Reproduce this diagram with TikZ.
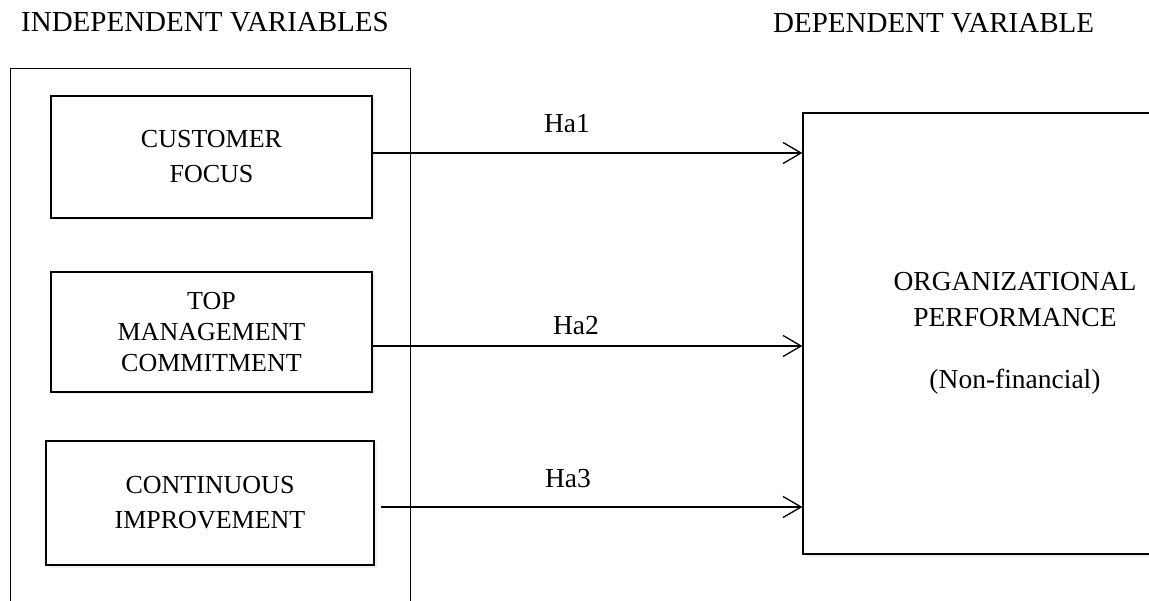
\documentclass[tikz,border=0pt]{standalone}
\usepackage{fontspec}
\setmainfont{Liberation Serif}
\usepackage{tikz}
\usetikzlibrary{shapes}
\usetikzlibrary{arrows.meta}
\usetikzlibrary{positioning}
\usetikzlibrary{shadows}

\begin{document}
\begin{tikzpicture}[x=1pt,y=-1pt]
			\tikzset{varbox/.style = {shape=rectangle,draw,line width=1.3pt,
					fill=white,align=center,inner sep=0pt,
					drop shadow={shadow xshift=2.5pt,shadow yshift=-2.5pt,
						fill=black!12},
					font=\fontsize{26}{35}\selectfont}}
			\tikzset{container/.style = {shape=rectangle,draw,line width=0.9pt,
					inner sep=0pt}}
			\tikzset{edge/.style = {-{Straight Barb[length=18pt,width=21pt]},
					line width=1.3pt}}
			\tikzset{hlabel/.style = {anchor=base,inner sep=0pt,
					font=\fontsize{27.5}{33}\selectfont}}
			\tikzset{heading/.style = {anchor=base west,inner sep=0pt,
					font=\fontsize{29}{35}\selectfont}}

			\useasboundingbox (0,0) rectangle (1149,601);
			\clip (0,0) rectangle (1149,601);

			% headings
			\node[heading] (hind) at (21,32) {INDEPENDENT VARIABLES};
			\node[heading] (hdep) at (773,33) {DEPENDENT VARIABLE};

			% vertices
			\node[container,minimum width=400pt,minimum height=572pt] (indep) at (210,354) {};
			\node[varbox,minimum width=321pt,minimum height=122pt] (cf) at (211.5,157)
				{CUSTOMER\\FOCUS};
			\node[varbox,minimum width=321pt,minimum height=120pt,
				font=\fontsize{26}{31}\selectfont] (tm) at (211.5,332)
				{TOP\\MANAGEMENT\\COMMITMENT};
			\node[varbox,minimum width=328pt,minimum height=124pt] (ci) at (210,503)
				{CONTINUOUS\\IMPROVEMENT};
			\node[varbox,minimum width=424pt,minimum height=441pt,
				font=\fontsize{27.5}{36}\selectfont] (op) at (1015,333.5)
				{ORGANIZATIONAL\\PERFORMANCE\\[26pt](Non-financial)};

			%edges
			\draw[edge] ([yshift=4pt]cf.east) to ([yshift=4pt]cf.east -| op.west);
			\draw[edge] ([yshift=-14pt]tm.east) to ([yshift=-14pt]tm.east -| op.west);
			\draw[edge] ([xshift=6pt,yshift=-4pt]ci.east) to ([yshift=-4pt]ci.east -| op.west);

			\node[hlabel] (ha1) at (567,133) {Ha1};
			\node[hlabel] (ha2) at (576,335) {Ha2};
			\node[hlabel] (ha3) at (568,487) {Ha3};

\end{tikzpicture}
\end{document}
